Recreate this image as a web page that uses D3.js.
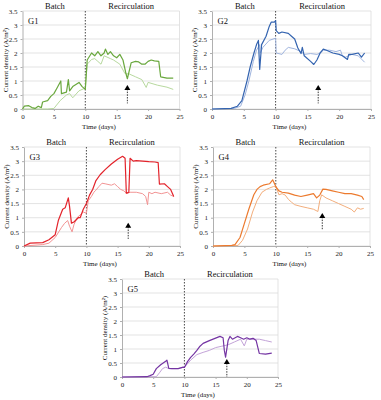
<!DOCTYPE html>
<html>
<head>
<meta charset="utf-8">
<script src="https://cdn.jsdelivr.net/npm/d3@7"></script>
<style>
  body { margin: 0; background: #fff; }
  svg { display: block; font-family: "Liberation Serif", "DejaVu Serif", serif; }
</style>
</head>
<body>
<svg id="chart" width="381" height="400"></svg>
<script>
// values: [time (days), current density (A/m2)]
var g1Dark = [[0,0],[0.3,0.1],[1,0.12],[1.5,0.05],[2,0.02],[2.5,0.1],[3,0.05],[3.2,0.25],[4,0.3],[4.5,0.45],[5,0.55],[5.5,0.75],[6.1,1.0],[6.2,0.55],[7,0.6],[7.3,1.05],[7.5,0.65],[8,0.8],[9,0.95],[9.5,0.8],[10,0.7],[10.3,1.75],[11,2.0],[11.5,1.9],[12,2.05],[12.5,1.9],[13,2.0],[13.2,2.14],[13.6,1.95],[14,2.05],[14.5,1.9],[15,1.83],[15.5,1.95],[16,1.75],[16.5,1.24],[16.7,1.08],[17.3,1.65],[18,1.7],[18.5,1.68],[19,1.6],[19.5,1.6],[20,1.7],[20.5,1.75],[21,1.72],[21.7,1.7],[22,1.15],[23,1.1],[24,1.1]];
var g1Light = [[0,0],[4,0],[5,0.02],[6,0.3],[7,0.5],[7.5,0.55],[8,0.4],[9,0.65],[10,0.75],[10.3,1.6],[11,1.77],[11.5,1.8],[12,1.7],[12.5,1.6],[13,1.9],[14,1.8],[14.5,1.75],[15.5,1.6],[16.3,1.27],[17,1.25],[18,1.15],[19,1.05],[19.7,0.77],[20,0.95],[21.5,0.85],[23,0.78],[24,0.7]];
var g2Dark = [[0,0],[3,0.02],[4,0.1],[4.7,0.3],[5.5,1.0],[6,1.5],[6.6,2.0],[7,2.3],[7.3,2.45],[7.5,1.41],[7.8,2.3],[8.5,2.6],[9,2.95],[9.3,3.1],[9.8,3.1],[10,3.16],[10.1,2.8],[10.5,2.7],[11,2.75],[12,2.7],[12.5,2.6],[13,2.5],[13.5,2.18],[14,1.98],[14.2,2.2],[14.5,1.9],[15.5,1.7],[16,1.59],[16.5,1.75],[17,2.0],[17.5,2.14],[18,2.1],[19,2.0],[20,1.95],[20.5,1.9],[21.3,1.77],[21.5,1.95],[22,1.95],[23,2.0],[23.5,1.85],[24,2.0]];
var g2Light = [[0,0],[3.5,0.02],[4.5,0.1],[5.2,0.5],[5.8,1.0],[6.5,1.7],[7,2.1],[7.5,2.3],[7.6,2.0],[8,2.2],[9,2.45],[10,2.53],[10.1,2.0],[11,1.95],[11.5,2.1],[12,2.2],[13,2.15],[14,2.05],[14.5,1.95],[15.5,1.98],[16.5,1.95],[17,2.0],[17.5,2.1],[18.5,2.1],[19.5,2.05],[20.2,2.1],[20.5,1.9],[21,1.85],[22,1.95],[23,1.9],[24,1.67]];
var g3Dark = [[0,0],[1,0.1],[3,0.12],[4,0.22],[5,0.4],[5.5,0.9],[6.2,1.3],[6.6,1.35],[7.1,1.7],[7.3,1.4],[7.6,0.81],[8,0.85],[8.7,1.0],[9,1.0],[9.5,1.3],[10,1.5],[10.5,1.8],[11,2.0],[11.5,2.3],[12.2,2.52],[13,2.7],[14,2.9],[15,3.07],[15.8,3.17],[16.2,3.1],[16.4,1.87],[16.8,1.9],[17,3.1],[17.5,3.0],[18,3.02],[19,3.0],[20,2.98],[21,2.97],[21.5,2.95],[21.7,2.19],[22.5,2.2],[23,2.1],[23.5,2.0],[24,1.75]];
var g3Light = [[0,0],[3,0.05],[4,0.1],[5,0.3],[6,0.65],[6.5,0.8],[7,0.9],[7.3,0.7],[7.7,0.5],[8,0.75],[8.5,1.0],[9,1.1],[9.5,1.2],[10,1.16],[10.3,1.6],[10.8,1.75],[11.2,1.9],[11.5,1.97],[12,2.1],[12.5,2.22],[13,2.2],[14,2.15],[14.5,2.2],[15,2.1],[15.5,2.0],[16,1.95],[16.5,1.85],[17,1.9],[18,1.9],[19,1.85],[19.5,1.75],[19.8,1.46],[20,1.9],[20.5,1.85],[21,1.9],[22,1.85],[23,1.9],[23.5,1.8],[24,1.75]];
var g4Dark = [[0,0],[3,0.02],[3.5,0.05],[4.3,0.3],[5,0.8],[5.7,1.3],[6.5,1.81],[7,2.0],[7.5,2.1],[8,2.15],[9,2.2],[9.5,2.34],[10,2.1],[10.5,1.95],[11,1.9],[12,1.87],[13,1.8],[14,1.75],[15,1.8],[16,1.85],[16.5,1.7],[17,1.8],[17.5,2.01],[18,2.0],[19,1.95],[20,1.9],[21,1.85],[22,1.85],[23,1.8],[23.7,1.75],[24,1.64]];
var g4Light = [[0,0],[4,0.02],[4.7,0.2],[5.5,0.6],[6.3,1.2],[7,1.6],[7.8,1.9],[8.5,2.0],[9,2.05],[9.6,2.1],[10,2.1],[10.5,1.81],[11,1.85],[11.5,1.8],[12,1.65],[12.5,1.55],[13,1.46],[14,1.4],[15,1.35],[16,1.3],[16.7,1.22],[17,1.6],[17.3,1.81],[18,1.7],[19,1.6],[20,1.5],[21,1.4],[22,1.3],[22.5,1.2],[23,1.35],[23.5,1.3],[24,1.33]];
var g5Dark = [[0,0],[4,0.01],[4.5,0.05],[5,0.1],[5.5,0.3],[6.2,0.44],[7,0.56],[7.2,0.6],[7.5,0.31],[8,0.3],[9,0.3],[9.8,0.35],[10,0.34],[10.5,0.55],[11,0.7],[11.5,0.82],[12,0.95],[12.5,1.1],[13,1.2],[14,1.3],[15,1.39],[15.7,1.45],[16.2,1.4],[16.4,0.95],[16.6,0.71],[17,1.3],[17.3,1.45],[17.7,1.35],[18.5,1.45],[19,1.4],[19.5,1.35],[20,1.4],[20.5,1.35],[21,1.38],[21.5,1.3],[22,0.84],[23,0.82],[24,0.85]];
var g5Light = [[0,0],[5.5,0.01],[6,0.15],[6.5,0.3],[7,0.35],[7.5,0.3],[9,0.3],[10,0.35],[11,0.6],[12,0.8],[13,0.88],[14,0.95],[15,1.05],[16,1.1],[17,1.15],[18,1.25],[19,1.35],[19.6,1.11],[20,1.35],[21,1.35],[22,1.35],[23,1.3],[24,1.25]];

var panelNames = ["G1", "G2", "G3", "G4", "G5"];
var seriesDark = [g1Dark, g2Dark, g3Dark, g4Dark, g5Dark];
var seriesLight = [g1Light, g2Light, g3Light, g4Light, g5Light];
// arrow tip (time, density) and foot of the dotted stem
var arrowTime = [16.7, 16.7, 16.7, 17.4, 16.8];
var arrowTop = [0.86, 0.86, 0.82, 1.17, 0.64];
var arrowFoot = [0.2, 0.2, 0.25, 0.57, 0];
var xTicks = [0, 5, 10, 15, 20, 25];
var yTicks = [0, 0.5, 1, 1.5, 2, 2.5, 3, 3.5];

var darkColors = ["#6aa83e", "#3464b0", "#e3232b", "#ec7a2e", "#7434a3"];
var lightColors = ["#b8d99f", "#9fb4de", "#f29494", "#f3ae7c", "#c3a3d8"];
var boxes = [
  {x: 22.5, y: 11, w: 157, h: 98},
  {x: 212, y: 11, w: 159, h: 98},
  {x: 24, y: 147, w: 156, h: 99},
  {x: 213, y: 147, w: 157, h: 99},
  {x: 122, y: 279, w: 156, h: 98}
];

var svg = d3.select("#chart");

panelNames.forEach(function(name, i) {
    var b = boxes[i];
    var g = svg.append("g").attr("transform", "translate(" + b.x + "," + b.y + ")");
    var x = d3.scaleLinear().domain([0, 25]).range([0, b.w]);
    var y = d3.scaleLinear().domain([0, 3.5]).range([b.h, 0]);

    // gridlines
    g.append("g")
      .selectAll("line")
      .data(yTicks)
      .enter().append("line")
        .attr("x1", 0).attr("x2", b.w)
        .attr("y1", d => y(d)).attr("y2", d => y(d))
        .attr("stroke", "#dcdcdc")
        .attr("stroke-width", 0.8);
    g.append("line")
        .attr("x1", b.w).attr("x2", b.w).attr("y1", 0).attr("y2", b.h)
        .attr("stroke", "#dcdcdc").attr("stroke-width", 0.8);

    var xAxis = g.append("g")
        .attr("transform", "translate(0," + b.h + ")")
        .call(d3.axisBottom(x).tickValues(xTicks).tickSize(2).tickPadding(3).tickSizeOuter(0));
    var yAxis = g.append("g")
        .call(d3.axisLeft(y).tickValues(yTicks).tickSize(2).tickPadding(3).tickSizeOuter(0)
              .tickFormat(d3.format("")));
    [xAxis, yAxis].forEach(function(a) {
        a.attr("font-family", "Liberation Serif");
        a.select(".domain").attr("stroke", "#b0b0b0");
        a.selectAll(".tick line").attr("stroke", "#b0b0b0");
        a.selectAll("text")
          .attr("font-size", 7)
          .attr("fill", "#222");
    });

    // day-10 switch from batch to recirculation
    g.append("line")
        .attr("x1", x(10)).attr("x2", x(10))
        .attr("y1", 0).attr("y2", b.h)
        .attr("stroke", "#333")
        .attr("stroke-width", 0.9)
        .attr("stroke-dasharray", "1.5,1.5");

    var line = d3.line().x(d => x(d[0])).y(d => y(d[1]));
    g.append("path")
        .datum(seriesLight[i])
        .attr("d", line)
        .attr("fill", "none")
        .attr("stroke", lightColors[i])
        .attr("stroke-width", 1);
    g.append("path")
        .datum(seriesDark[i])
        .attr("d", line)
        .attr("fill", "none")
        .attr("stroke", darkColors[i])
        .attr("stroke-width", 1.2)
        .attr("stroke-linejoin", "round");

    // arrow
    var ax = x(arrowTime[i]), ay = y(arrowTop[i]);
    g.append("line")
        .attr("x1", ax).attr("x2", ax)
        .attr("y1", ay + 4).attr("y2", y(arrowFoot[i]))
        .attr("stroke", "#222")
        .attr("stroke-width", 0.9)
        .attr("stroke-dasharray", "1.5,1.2");
    g.append("path")
        .attr("d", "M" + ax + "," + ay + "L" + (ax + 3) + "," + (ay + 5) + "L" + (ax - 3) + "," + (ay + 5) + "Z")
        .attr("fill", "#000");

    g.append("text")
        .attr("x", 5.5).attr("y", 13)
        .attr("font-size", 8.5)
        .attr("fill", "#111")
        .text(name);

    g.append("text")
        .attr("x", (0 + x(10)) / 2 + 1).attr("y", -2.5)
        .attr("text-anchor", "middle")
        .attr("font-size", 8.5)
        .attr("fill", "#111")
        .text("Batch");
    g.append("text")
        .attr("x", x(17.3)).attr("y", -2.5)
        .attr("text-anchor", "middle")
        .attr("font-size", 8.5)
        .attr("fill", "#111")
        .text("Recirculation");

    g.append("text")
        .attr("x", b.w / 2 - 2).attr("y", b.h + 20)
        .attr("text-anchor", "middle")
        .attr("font-size", 7)
        .attr("fill", "#111")
        .text("Time (days)");
    g.append("text")
        .attr("transform", "translate(-15," + (b.h / 2) + ") rotate(-90)")
        .attr("text-anchor", "middle")
        .attr("font-size", 7)
        .attr("fill", "#111")
        .text("Current density (A/m²)");
});
</script>
</body>
</html>
